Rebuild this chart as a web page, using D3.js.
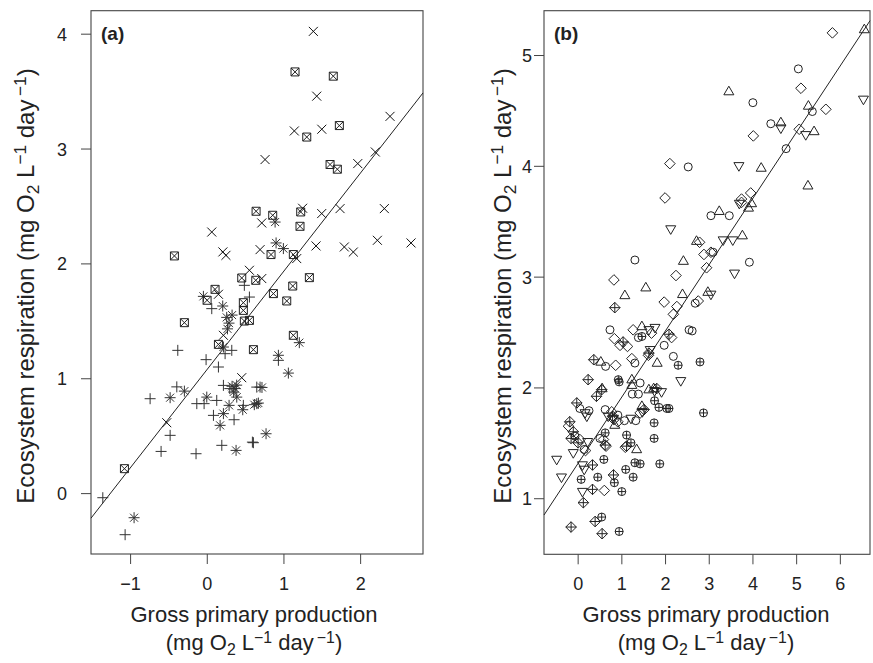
<!DOCTYPE html>
<html><head><meta charset="utf-8">
<script src="https://cdn.jsdelivr.net/npm/d3@7"></script>
<style>
body{margin:0;background:#fff}
text{font-family:"Liberation Sans",Arial,Helvetica,sans-serif;fill:#222}
</style>
</head><body>
<svg id="c" width="873" height="663"></svg>
<script>
// ---------------- Panel (a) data: [GPP, ER] ----------------
const aCross = [[1.39,4.02],[1.434,3.456],[2.39,3.28],[1.142,3.153],[1.50,3.168],[0.76,2.904],[1.969,2.869],[2.198,2.97],[0.717,2.352],[0.065,2.273],[0.695,2.12],[0.21,2.10],[0.25,2.07],[0.556,1.94],[0.152,1.731],[0.217,1.374],[0.456,1.005],[-0.522,0.613],[1.25,2.48],[1.499,2.434],[1.738,2.477],[2.316,2.477],[1.173,2.042],[1.425,2.152],[1.794,2.143],[1.911,2.099],[2.225,2.201],[2.664,2.178],[0.717,1.868]];
const aBox = [[1.151,3.667],[1.65,3.63],[1.729,3.20],[1.304,3.10],[1.608,2.861],[1.703,2.82],[0.643,2.454],[-0.422,2.065],[0.456,1.873],[0.639,1.853],[0.108,1.774],[0.004,1.679],[0.477,1.658],[0.477,1.591],[-0.292,1.484],[0.49,1.498],[0.556,1.504],[0.152,1.295],[0.608,1.249],[-1.074,0.213],[0.86,2.419],[1.225,2.448],[1.216,2.323],[0.838,2.077],[1.129,2.077],[1.338,1.876],[1.121,1.803],[0.869,1.737],[1.043,1.673],[1.129,1.374]];
const aPlus = [[0.49,1.809],[0.556,1.707],[0.065,1.606],[0.326,1.243],[-0.378,1.243],[0.239,1.214],[-0.009,1.162],[0.152,1.098],[-0.391,0.925],[-0.739,0.822],[-0.13,0.779],[-0.035,0.779],[0.13,0.807],[0.217,0.938],[0.30,0.91],[0.652,0.923],[0.477,0.764],[0.087,0.677],[0.356,0.639],[0.196,0.416],[0.595,0.444],[-0.478,0.503],[-0.596,0.363],[-0.14,0.343],[-1.356,-0.04],[-1.065,-0.362],[0.608,0.439],[0.934,1.156],[0.695,0.923]];
const aStar = [[-0.044,1.713],[0.208,1.629],[0.26,1.53],[0.29,1.48],[0.33,1.55],[0.27,1.43],[0.217,1.272],[-0.292,0.888],[-0.478,0.831],[0.0,0.836],[0.33,0.93],[0.37,0.91],[0.39,0.94],[0.35,0.88],[0.391,0.836],[0.291,0.764],[0.469,0.726],[0.652,0.779],[0.217,0.692],[0.174,0.590],[0.382,0.372],[-0.948,-0.214],[0.72,0.92],[0.673,0.784],[0.62,0.77],[0.773,0.517],[0.891,2.36],[0.904,2.178],[0.999,2.129],[1.207,1.31],[0.934,1.2],[1.064,1.045]];
const aFit = [1.073, 0.855];   // intercept, slope
const aXTicks = [-1, 0, 1, 2];
const aYTicks = [0, 1, 2, 3, 4];
const aXDomain = [-1.51, 2.82];
const aYDomain = [-0.53, 4.2];

// ---------------- Panel (b) data ----------------
const bCircle = [[5.05,4.875],[4.01,4.57],[5.37,4.49],[4.42,4.38],[4.77,4.155],[2.53,3.99],[3.05,3.55],[3.47,3.55],[3.1,3.22],[3.93,3.13],[2.69,2.76],[2.55,2.52],[2.62,2.51],[1.31,3.15],[0.74,2.52],[1.39,2.45],[1.98,2.38],[2.19,2.28],[0.64,2.19],[1.31,2.22],[1.43,2.04],[1.25,1.94],[1.39,1.94],[0.05,1.81],[0.26,1.79],[0.63,1.80],[0.92,1.75],[1.07,1.70],[1.33,1.70],[-0.06,1.56],[0.15,1.44],[0.51,1.54]];
const bTriUp = [[6.56,5.23],[3.46,4.67],[5.28,4.54],[4.65,4.39],[5.41,4.31],[4.20,3.98],[5.27,3.82],[3.98,3.66],[3.91,3.62],[3.24,3.59],[3.77,3.37],[2.98,2.86],[2.72,3.32],[2.42,3.14],[1.08,2.83],[1.56,2.90],[2.40,2.84],[1.47,2.55],[0.53,2.23],[1.82,2.22],[1.24,2.07],[1.24,2.02],[0.56,1.99],[1.63,1.98],[1.74,1.99],[0.85,1.66],[1.47,1.83],[1.35,1.44]];
const bTriDown = [[6.54,4.60],[4.65,4.34],[5.22,4.28],[3.69,4.00],[3.70,3.66],[3.33,3.33],[3.55,3.33],[3.59,3.03],[3.05,2.84],[2.13,3.43],[1.63,2.52],[1.77,2.54],[1.66,2.34],[2.36,2.06],[1.76,1.97],[1.92,1.96],[0.17,1.77],[0.21,1.74],[0.70,1.74],[0.82,1.72],[1.22,1.72],[1.48,1.78],[0.23,1.51],[-0.10,1.41],[-0.48,1.35],[-0.37,1.19],[0.11,1.30],[0.15,1.26],[0.11,1.06]];
const bDiamond = [[5.83,5.20],[5.11,4.70],[5.68,4.51],[5.07,4.33],[4.02,4.27],[2.11,4.02],[2.0,3.71],[3.96,3.755],[3.75,3.70],[3.75,3.67],[2.79,3.31],[2.89,3.20],[3.05,3.22],[2.95,3.08],[2.76,2.78],[0.83,2.97],[2.25,3.01],[1.98,2.77],[2.27,2.73],[2.19,2.66],[1.27,2.52],[0.84,2.44],[0.97,2.38],[1.14,2.37],[1.69,2.49],[2.15,2.45],[1.62,2.29],[0.87,2.20],[1.24,2.26],[0.78,1.78],[0.83,1.71],[0.92,1.69],[1.43,1.77],[-0.21,1.65],[0.05,1.53],[0.18,1.43],[0.59,1.53],[0.65,1.47],[1.09,1.46],[0.61,1.07]];
const bCirclePlus = [[2.80,2.23],[2.88,1.77],[1.47,2.46],[2.30,2.20],[0.93,2.07],[0.95,2.05],[1.76,1.88],[1.86,1.82],[2.04,1.81],[2.09,1.81],[1.75,1.68],[1.75,1.54],[0.08,1.17],[0.46,1.19],[0.63,1.59],[0.60,1.35],[1.12,1.57],[1.22,1.50],[1.31,1.32],[1.43,1.31],[1.88,1.31],[1.10,1.26],[1.27,1.19],[0.84,1.14],[1.01,1.06],[0.55,0.83],[0.95,0.70]];
const bDiamondPlus = [[0.85,2.72],[1.04,2.41],[2.09,2.48],[1.63,2.31],[0.37,2.25],[0.24,2.07],[1.81,1.99],[0.55,1.98],[0.43,1.92],[-0.02,1.86],[0.80,1.74],[1.52,1.80],[-0.18,1.69],[-0.10,1.60],[-0.15,1.54],[0.01,1.50],[0.63,1.48],[1.12,1.47],[0.34,1.30],[0.82,1.21],[0.34,1.08],[0.13,0.96],[0.40,0.79],[-0.15,0.74],[0.56,0.68]];
const bFit = [1.309, 0.598];
const bXTicks = [0, 1, 2, 3, 4, 5, 6];
const bYTicks = [1, 2, 3, 4, 5];
const bXDomain = [-0.77, 6.69];
const bYDomain = [0.494, 5.40];

// ---------------- Symbols (R pch look-alikes) ----------------
const SYM = {
  cross: "M-4.5,-4.5L4.5,4.5M-4.5,4.5L4.5,-4.5",
  plus: "M-5.5,0H5.5M0,-5.5V5.5",
  box: "M-4,-4H4V4H-4ZM-4,-4L4,4M-4,4L4,-4",
  star: "M-5.5,0H5.5M0,-5.5V5.5M-4,-4L4,4M-4,4L4,-4",
  circle: "M4,0A4,4 0 1,1 -4,0A4,4 0 1,1 4,0Z",
  circlePlus: "M4,0A4,4 0 1,1 -4,0A4,4 0 1,1 4,0ZM-4,0H4M0,-4V4",
  triUp: "M0,-5.4L5,3.2L-5,3.2Z",
  triDown: "M0,5.4L5,-3.2L-5,-3.2Z",
  diamond: "M0,-5.3L5.3,0L0,5.3L-5.3,0Z",
  diamondPlus: "M0,-5.3L5.3,0L0,5.3L-5.3,0ZM-5.3,0H5.3M0,-5.3V5.3"
};

const svg = d3.select("#c");
const minus = d => d < 0 ? "\u2212" + Math.abs(d) : String(d);

function unitsText(sel) {
  sel.append("tspan").text("(mg O");
  sel.append("tspan").attr("font-size", "0.72em").attr("dy", "0.3em").text("2");
  sel.append("tspan").attr("dy", "-0.216em").text(" L");
  sel.append("tspan").attr("font-size", "0.72em").attr("dy", "-0.45em").text("\u22121");
  sel.append("tspan").attr("dy", "0.324em").text(" day");
  sel.append("tspan").attr("font-size", "0.72em").attr("dy", "-0.45em").text("\u2009\u22121");
  sel.append("tspan").attr("dy", "0.324em").text(")");
}

function panel(cfg) {
  const x = d3.scaleLinear().domain(cfg.xDomain).range([cfg.L, cfg.R]);
  const y = d3.scaleLinear().domain(cfg.yDomain).range([cfg.B, cfg.T]);
  const g = svg.append("g");

  // axes
  const xa = g.append("g").attr("transform", `translate(0,${cfg.B})`)
    .call(d3.axisBottom(x).tickValues(cfg.xTicks).tickSize(10).tickPadding(13).tickFormat(minus));
  const ya = g.append("g").attr("transform", `translate(${cfg.L},0)`)
    .call(d3.axisLeft(y).tickValues(cfg.yTicks).tickSize(10).tickFormat(minus));
  [xa, ya].forEach(a => {
    a.select(".domain").remove();
    a.selectAll("line").attr("stroke", "#444");
    a.selectAll("text").attr("font-size", 18).attr("fill", "#222")
      .attr("font-family", "Liberation Sans, Arial, sans-serif");
  });
  ya.selectAll("text").attr("x", cfg.yLabelDx).attr("dy", "0.36em")
    .attr("text-anchor", "middle");

  // frame
  g.append("rect").attr("x", cfg.L).attr("y", cfg.T)
    .attr("width", cfg.R - cfg.L).attr("height", cfg.B - cfg.T)
    .attr("fill", "none").attr("stroke", "#444").attr("stroke-width", 1.1);

  // regression line
  const [b0, b1] = cfg.fit;
  g.append("line")
    .attr("x1", x(cfg.xDomain[0])).attr("y1", y(b0 + b1 * cfg.xDomain[0]))
    .attr("x2", x(cfg.xDomain[1])).attr("y2", y(b0 + b1 * cfg.xDomain[1]))
    .attr("stroke", "#222").attr("stroke-width", 1);

  // points
  cfg.series.forEach(s => {
    g.append("g").selectAll("path").data(s.data).join("path")
      .attr("d", SYM[s.sym])
      .attr("transform", d => `translate(${x(d[0])},${y(d[1])})`)
      .attr("fill", "none").attr("stroke", s.color).attr("stroke-width", 1);
  });

  // panel label
  g.append("text").attr("x", cfg.L + 10).attr("y", cfg.T + 29)
    .attr("font-size", 19).attr("font-weight", "bold").text(cfg.label);

  // x title (two lines)
  const cx = cfg.xTitleX;
  g.append("text").attr("x", cx).attr("y", 622).attr("text-anchor", "middle")
    .attr("font-size", 22).text("Gross primary production");
  const t2 = g.append("text").attr("x", cx).attr("y", 650).attr("text-anchor", "middle")
    .attr("font-size", 22);
  unitsText(t2);

  // y title
  const yt = g.append("text")
    .attr("transform", `translate(${cfg.yTitleX},286) rotate(-90)`)
    .attr("text-anchor", "middle").attr("font-size", 24);
  yt.append("tspan").text("Ecosystem respiration ");
  unitsText(yt);
}

panel({
  L: 91, R: 423, T: 10.7, B: 554,
  xDomain: aXDomain, yDomain: aYDomain, xTicks: aXTicks, yTicks: aYTicks,
  fit: aFit, label: "(a)", xTitleX: 254, yTitleX: 33.5, yLabelDx: -29,
  series: [
    {data: aPlus, sym: "plus", color: "#333"},
    {data: aStar, sym: "star", color: "#333"},
    {data: aBox, sym: "box", color: "#222"},
    {data: aCross, sym: "cross", color: "#111"}
  ]
});

panel({
  L: 544, R: 870, T: 10.7, B: 554.3,
  xDomain: bXDomain, yDomain: bYDomain, xTicks: bXTicks, yTicks: bYTicks,
  fit: bFit, label: "(b)", xTitleX: 706, yTitleX: 511, yLabelDx: -17,
  series: [
    {data: bCircle, sym: "circle", color: "#222"},
    {data: bTriUp, sym: "triUp", color: "#222"},
    {data: bTriDown, sym: "triDown", color: "#222"},
    {data: bDiamond, sym: "diamond", color: "#222"},
    {data: bCirclePlus, sym: "circlePlus", color: "#222"},
    {data: bDiamondPlus, sym: "diamondPlus", color: "#222"}
  ]
});
</script>
</body></html>
